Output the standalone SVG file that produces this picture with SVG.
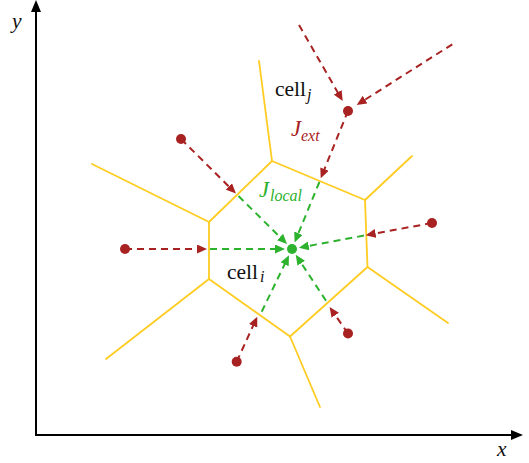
<svg xmlns="http://www.w3.org/2000/svg" width="529" height="463" viewBox="0 0 529 463">
<style>
.axis{stroke:#000;stroke-width:2;fill:none}
.edge{stroke:#FFCC22;stroke-width:1.8;fill:none;stroke-linecap:round;stroke-linejoin:round}
.red{stroke:#A82222;stroke-width:2;stroke-dasharray:7,5;fill:none;marker-end:url(#ra)}
.green{stroke:#2DB22D;stroke-width:2;stroke-dasharray:7,5;fill:none;marker-end:url(#ga)}
.rdot{fill:#A82222}
.gdot{fill:#2DB22D}
text{font-family:"Liberation Serif","Times New Roman",serif}
.lbl{font-size:21.5px;fill:#111}
.big{font-size:22.5px;font-style:italic}
.it{font-style:italic}
.sub{font-size:16px;font-style:italic}
</style>
<defs>
<marker id="ra" markerUnits="userSpaceOnUse" markerWidth="10" markerHeight="9" refX="5" refY="4.5" orient="auto"><path d="M0,0 L10,4.5 L0,9 z" fill="#A82222"/></marker>
<marker id="ga" markerUnits="userSpaceOnUse" markerWidth="10" markerHeight="9" refX="5" refY="4.5" orient="auto"><path d="M0,0 L10,4.5 L0,9 z" fill="#2DB22D"/></marker>
</defs>
<g id="axes">
<line class="axis" x1="36" y1="435" x2="36" y2="10"/>
<path d="M36,0 L41,12 L31,12 z" fill="#000"/>
<line class="axis" x1="35" y1="435" x2="512" y2="435"/>
<path d="M523,435 L511,430 L511,440 z" fill="#000"/>
<text class="lbl it" x="12" y="28">y</text>
<text class="lbl it" x="497" y="456">x</text>
</g>
<g id="cells">
<polygon class="edge" points="272,161 365,200 367.5,267 290,336.5 209,279 209,222"/>
<line class="edge" x1="272" y1="161" x2="259" y2="61"/>
<line class="edge" x1="365" y1="200" x2="412" y2="156"/>
<line class="edge" x1="209" y1="222" x2="92" y2="164"/>
<line class="edge" x1="209" y1="279" x2="106" y2="359"/>
<line class="edge" x1="290" y1="336.5" x2="320" y2="407"/>
<line class="edge" x1="367.5" y1="267" x2="448" y2="323"/>
</g>
<g id="connectors">
<line class="red" x1="299" y1="25" x2="340.2" y2="96.7"/>
<line class="red" x1="452.3" y1="44.3" x2="360.9" y2="102.3"/>
<line class="red" x1="348" y1="111" x2="322.6" y2="173.7"/>
<line class="green" x1="319.4" y1="182" x2="296.5" y2="237.9"/>
<line class="red" x1="181" y1="139" x2="232.4" y2="190"/>
<line class="green" x1="238.5" y1="196" x2="283.5" y2="240.6"/>
<line class="red" x1="125" y1="249" x2="202" y2="249"/>
<line class="green" x1="210" y1="249" x2="280" y2="249"/>
<line class="red" x1="432" y1="223" x2="370.6" y2="234.3"/>
<line class="green" x1="364" y1="235.6" x2="303.8" y2="246.8"/>
<line class="red" x1="348" y1="333.5" x2="332.4" y2="311.1"/>
<line class="green" x1="326" y1="300.7" x2="298.5" y2="259"/>
<line class="red" x1="236.7" y1="361.7" x2="255.2" y2="321.2"/>
<line class="green" x1="261.7" y1="311.7" x2="286.8" y2="259.8"/>
</g>
<g id="node-j">
<circle class="rdot" cx="348" cy="111" r="5"/>
<text class="lbl" x="275" y="96">cell</text>
<text class="sub" x="307" y="100" fill="#111">j</text>
<text class="big" x="291" y="136" fill="#A82222">J</text>
<text class="sub" x="301" y="141" fill="#A82222">ext</text>
</g>
<g id="node-1"><circle class="rdot" cx="181" cy="139" r="5"/></g>
<g id="node-2"><circle class="rdot" cx="125" cy="249" r="5"/></g>
<g id="node-3"><circle class="rdot" cx="432" cy="223" r="5"/></g>
<g id="node-4"><circle class="rdot" cx="348" cy="333.5" r="5"/></g>
<g id="node-5"><circle class="rdot" cx="236.7" cy="361.7" r="5"/></g>
<g id="node-i">
<circle class="gdot" cx="292" cy="249" r="5"/>
<text class="lbl" x="227" y="279">cell</text>
<text class="sub" x="260" y="282" fill="#111">i</text>
<text class="big" x="259" y="197" fill="#2DB22D">J</text>
<text class="sub" x="270" y="201" fill="#2DB22D">local</text>
</g>
</svg>
